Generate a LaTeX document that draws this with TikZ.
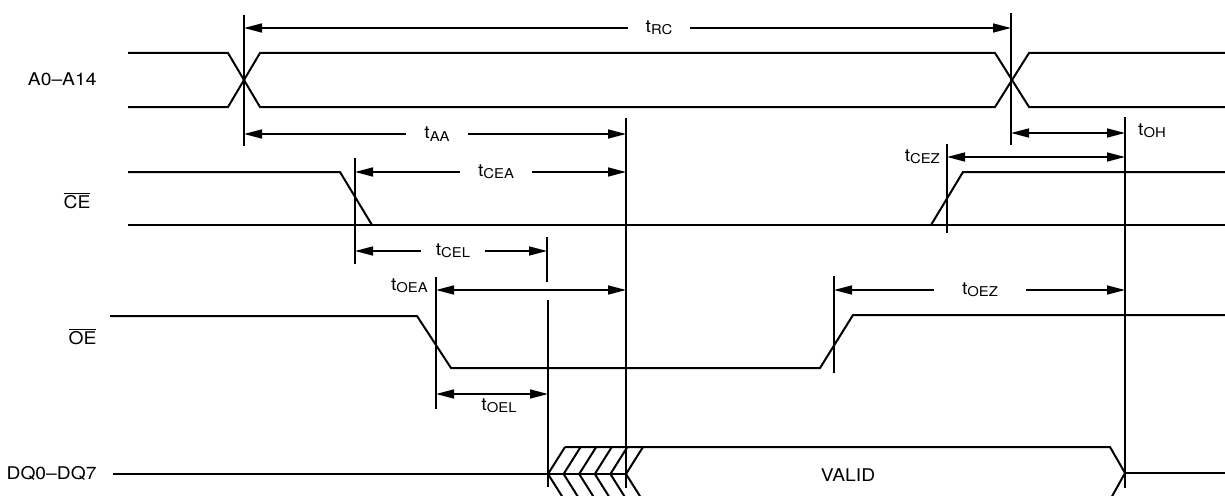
\documentclass[tikz,border=0pt]{standalone}
\usepackage{fontspec}
\setmainfont{TeX Gyre Heros}[FakeStretch=1.1]
\usetikzlibrary{arrows.meta, positioning}
\newcommand{\sigfont}{\fontsize{17.5}{20}\selectfont}
\newcommand{\tsub}[1]{t\raisebox{-2.5pt}{\fontsize{13.5}{14}\selectfont #1}}
\tikzset{
    x=1pt, y=-1pt, % one unit is one pixel of the scan, y runs down
    wave/.style={line width=2pt}, % signal lines
    marker/.style={line width=1.8pt}, % vertical timing marks
    dim/.style={line width=1.5pt, -{Triangle[length=18pt,width=9pt]}}, % arrow onto a mark
    dimboth/.style={line width=1.5pt, {Triangle[length=18pt,width=9pt]}-{Triangle[length=18pt,width=9pt]}},
    tlabel/.style={inner sep=0pt, font=\sigfont}, % timing names
    dimlabel/.style={tlabel, inner xsep=18pt}, % timing name sitting in a gap of its arrow
    signame/.style={anchor=base east, font=\sigfont}, % signal names on the left
}

\begin{document}
\begin{tikzpicture}
% page frame, also cuts the bus lines below the lower edge
\useasboundingbox (0,0) rectangle (1225,495);
\clip (0,0) rectangle (1225,495);

% timing marks
\foreach \name/\x/\top/\bot in {a/244/15/146, b/1011/13/145, c/626/118/488, d/355/158/264,
        e/547/237/282, f/436/277/409, g/548/300/487, h/834/276/373, i/947/144/233, j/1125/117/488}{
    \coordinate (\name t) at (\x,\top);
    \coordinate (\name b) at (\x,\bot);
    \draw[marker] (\name t) -- (\name b);
}

% A0-A14
\node[signame] (nA) at (100,85) {A0--A14};
\draw[wave] (128,53) -- (228,53) -- (260,107) -- (995,107) -- (1029,53) -- (1225,53);
\draw[wave] (128,107) -- (228,107) -- (260,53) -- (995,53) -- (1029,107) -- (1225,107);

% CE
\node[signame] (nCE) at (94,208) {$\overline{\mbox{CE}}$};
\draw[wave] (128,172) -- (340,172) -- (372,225);
\draw[wave] (128,225) -- (1225,225);
\draw[wave] (931,225) -- (963,172) -- (1225,172);

% OE
\node[signame] (nOE) at (100,344) {$\overline{\mbox{OE}}$};
\draw[wave] (110,316) -- (417,316) -- (451,368) -- (820,368) -- (853,315) -- (1225,315);

% DQ0-DQ7
\node[signame] (nDQ) at (100,479) {DQ0--DQ7};
\draw[wave] (113,474) -- (626,474);
\foreach \k in {0,...,5}
    \draw[wave] ({565+15.6*\k},447) -- ({548+15.6*\k},474) -- ({565+15.6*\k},501);
\draw[wave] (565,447) -- (1110,447) -- (1125,473) -- (1110,500) -- (565,500);
\draw[wave] (1125,473) -- (1225,473);
\node[anchor=base, font=\sigfont] (valid) at (848,481) {VALID};

% timings with the name in the gap
\node[dimlabel] (rc) at (659,28) {\tsub{RC}};
\draw[dim] (rc.west) -- (rc.west -| at);
\draw[dim] (rc.east) -- (rc.east -| bt);
\node[dimlabel] (aa) at (437,134) {\tsub{AA}};
\draw[dim] (aa.west) -- (aa.west -| at);
\draw[dim] (aa.east) -- (aa.east -| ct);
\node[dimlabel] (cea) at (496,172) {\tsub{CEA}};
\draw[dim] (cea.west) -- (cea.west -| dt);
\draw[dim] (cea.east) -- (cea.east -| ct);
\node[dimlabel, inner xsep=15pt] (cel) at (453,251) {\tsub{CEL}};
\draw[dim] (cel.west) -- (cel.west -| dt);
\draw[dim] (cel.east) -- (cel.east -| et);
\node[dimlabel, inner xsep=28pt] (oez) at (980,290) {\tsub{OEZ}};
\draw[dim] (oez.west) -- (oez.west -| ht);
\draw[dim] (oez.east) -- (oez.east -| jt);

% timings with the name beside
\node[tlabel, anchor=east] (oea) at (428,286) {\tsub{OEA}};
\draw[dimboth] (ft |- 0,290) -- (ct |- 0,290);
\node[tlabel] (oel) at (499,406) {\tsub{OEL}};
\draw[dimboth] (ft |- 0,394) -- (gt |- 0,394);
\node[tlabel, anchor=east] (cez) at (940,157) {\tsub{CEZ}};
\draw[dimboth] (it |- 0,157) -- (jt |- 0,157);
\node[tlabel, anchor=west] (oh) at (1138,131) {\tsub{OH}};
\draw[dimboth] (bt |- 0,133) -- (jt |- 0,133);
\end{tikzpicture}
\end{document}
